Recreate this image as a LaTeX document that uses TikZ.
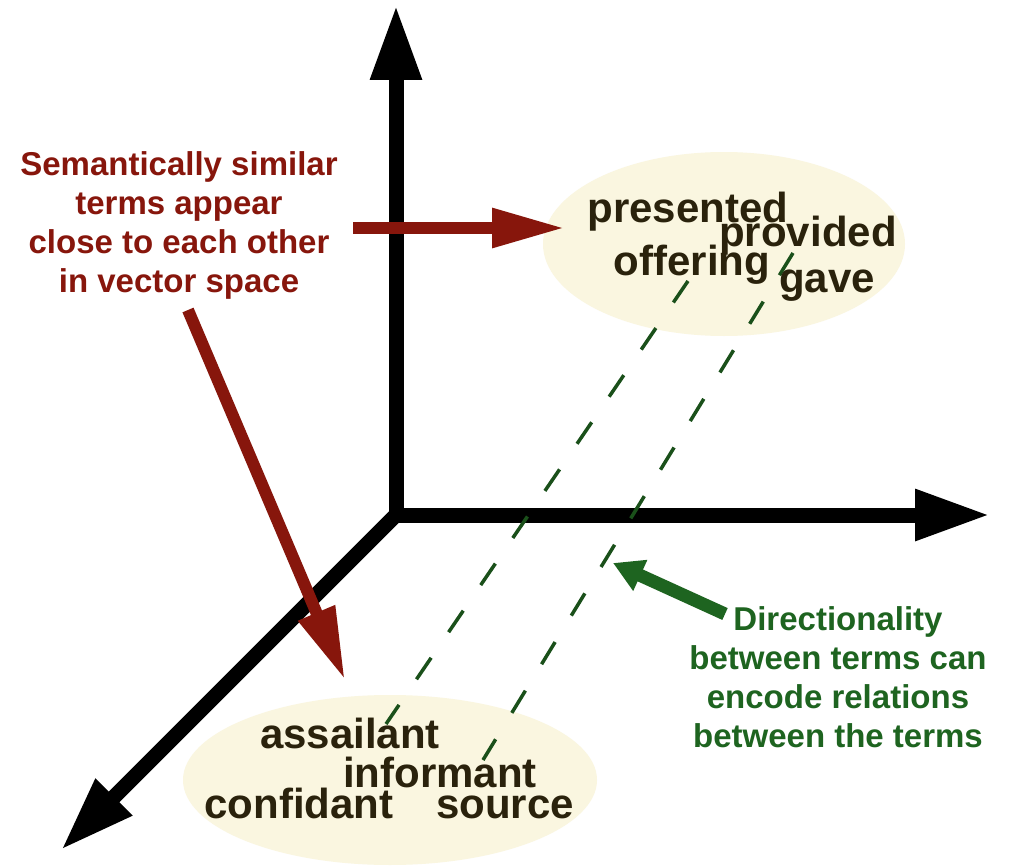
\documentclass[tikz,border=0pt]{standalone}
\usepackage{fontspec}
\setmainfont{Liberation Sans}
\usepackage{xcolor}
\usetikzlibrary{arrows.meta,positioning,calc}

\definecolor{noteRed}{RGB}{135,22,12}
\definecolor{noteGreen}{RGB}{30,100,32}
\definecolor{dashGreen}{RGB}{26,80,26}
\definecolor{termInk}{RGB}{42,34,12}
\definecolor{cloudFill}{RGB}{250,246,224}

\begin{document}
\begin{tikzpicture}[
  x=1pt, y=-1pt,
  axis/.style={line width=15pt, line cap=round, -{Triangle[length=75pt,width=48pt]}},
  cloud/.style={fill=cloudFill},
  term/.style={font=\fontsize{42}{48}\selectfont\bfseries, text=termInk, inner sep=0pt, anchor=base},
  note/.style={font=\fontsize{33}{39}\selectfont\bfseries, align=center, inner sep=0pt},
  redarrow/.style={draw=noteRed, line width=12pt, -{Triangle[length=73pt,width=37pt]}},
  greenarrow/.style={draw=noteGreen, line width=13pt, -{Triangle[length=30pt,width=32pt]}},
  relation/.style={draw=dashGreen, line width=3.5pt, dash pattern=on 26pt off 31pt}
]

\fill[white] (0,0) rectangle (1010,867);
\useasboundingbox (0,0) rectangle (1010,867);

% word clusters
\fill[cloud] (724,244) ellipse [x radius=181pt, y radius=92pt];
\fill[cloud] (390,780) ellipse [x radius=207pt, y radius=85pt];

% axes
\coordinate (o) at (396,515);
\coordinate (ytip) at (396,5);
\coordinate (xtip) at (990,515);
\coordinate (ztip) at (61,850);
\draw[axis] (o) -- (ytip);
\draw[axis] (o) -- (xtip);
\draw[axis] (o) -- (ztip);

% relation directions
\coordinate (r1top) at (688,281);
\coordinate (r1bot) at (386,724);
\coordinate (r2top) at (793,253);
\coordinate (r2bot) at (483,760);
\draw[relation] (r1top) -- (r1bot);
\draw[relation] (r2top) -- (r2bot);

% terms
\node[term] (presented) at (688,222) {presented};
\node[term] (provided) at (808,246) {provided};
\node[term] (offering) at (692,275) {offering};
\node[term] (gave) at (827,292) {gave};
\node[term] (assailant) at (350,748) {assailant};
\node[term] (informant) at (440,787) {informant};
\node[term] (confidant) at (299,818) {confidant};
\node[term] (source) at (505,818) {source};

% notes
\node[note, text=noteRed] (simnote) at (179,225) {Semantically similar\\terms appear\\close to each other\\in vector space};
\node[note, text=noteGreen] (dirnote) at (838,677) {Directionality\\between terms can\\encode relations\\between the terms};

\coordinate (ra1) at (353,228);
\coordinate (ra1tip) at (565,228);
\coordinate (ra2) at (188,310);
\coordinate (ra2tip) at (345,680);
\coordinate (ga) at (725,614);
\coordinate (gatip) at (613,563);
\draw[redarrow] (ra1) -- (ra1tip);
\draw[redarrow] (ra2) -- (ra2tip);
\draw[greenarrow] (ga) -- (gatip);

\end{tikzpicture}
\end{document}
